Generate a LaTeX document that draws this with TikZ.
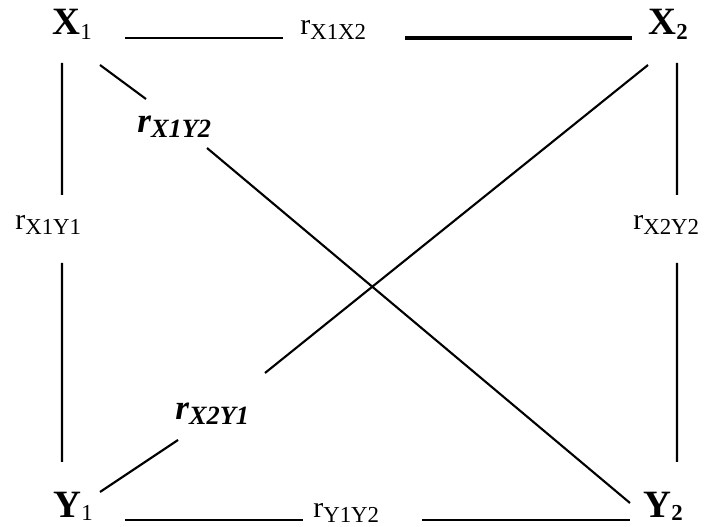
\documentclass[tikz,border=0pt]{standalone}
\usepackage{fontspec}
\setmainfont{Liberation Serif}
\usepackage{tikz}

\newcommand{\varsub}[2][2.8pt]{\raisebox{-#1}{\fontsize{13}{15}\selectfont #2}}
\newcommand{\corrsub}[1]{\raisebox{-2.3pt}{\fontsize{13}{15}\selectfont #1}}
\newcommand{\corrbisub}[1]{\raisebox{-2.8pt}{\fontsize{15}{17}\selectfont #1}}

\begin{document}
\begin{tikzpicture}[
  var/.style={inner sep=0pt, anchor=base west, font=\fontsize{22}{26}\selectfont\bfseries},
  corr/.style={inner sep=0pt, anchor=base west, font=\fontsize{17}{20}\selectfont},
  corrbi/.style={inner sep=0pt, anchor=base west, font=\fontsize{20}{24}\selectfont\bfseries\itshape},
  edge/.style={line width=1.2pt}
]
\useasboundingbox (0,0) rectangle (14.16,-10.54);

% variables
\node[var] (X1) at (1.04,-0.70) {X\varsub{\mdseries 1}};
\node[var] (X2) at (12.96,-0.70) {X\varsub{2}};
\node[var] (Y1) at (1.06,-10.36) {Y\varsub[1.2pt]{\mdseries 1}};
\node[var] (Y2) at (12.86,-10.36) {Y\varsub[1.2pt]{2}};

% correlations
\node[corr] (rX1X2) at (6.00,-0.70) {r\corrsub{X1X2}};
\node[corr] (rX1Y1) at (0.30,-4.60) {r\corrsub{X1Y1}};
\node[corr] (rX2Y2) at (12.66,-4.60) {r\corrsub{X2Y2}};
\node[corr] (rY1Y2) at (6.26,-10.36) {r\corrsub{Y1Y2}};
\node[corrbi] (rX1Y2) at (2.74,-2.66) {r\corrbisub{X1Y2}};
\node[corrbi] (rX2Y1) at (3.50,-8.40) {r\corrbisub{X2Y1}};

% top and bottom
\draw[edge] ([shift={(1.46,-0.06)}]X1.base west) -- ([shift={(-0.34,-0.06)}]rX1X2.base west);
\draw[edge, line width=1.8pt] ([shift={(2.10,-0.06)}]rX1X2.base west) -- ([shift={(-0.32,-0.06)}]X2.base west);
\draw[edge] ([shift={(1.44,-0.04)}]Y1.base west) -- ([shift={(-0.20,-0.04)}]rY1Y2.base west);
\draw[edge] ([shift={(2.18,-0.04)}]rY1Y2.base west) -- ([shift={(-0.26,-0.04)}]Y2.base west);

% left and right
\draw[edge] ([shift={(0.20,-0.56)}]X1.base west) -- ([shift={(0.94,0.70)}]rX1Y1.base west);
\draw[edge] ([shift={(0.94,-0.66)}]rX1Y1.base west) -- ([shift={(0.18,1.12)}]Y1.base west);
\draw[edge] ([shift={(0.58,-0.56)}]X2.base west) -- ([shift={(0.88,0.70)}]rX2Y2.base west);
\draw[edge] ([shift={(0.88,-0.66)}]rX2Y2.base west) -- ([shift={(0.68,1.12)}]Y2.base west);

% diagonals
\draw[edge] ([shift={(0.96,-0.60)}]X1.base west) -- ([shift={(0.18,0.68)}]rX1Y2.base west);
\draw[edge] ([shift={(1.40,-0.30)}]rX1Y2.base west) -- ([shift={(-0.26,0.30)}]Y2.base west);
\draw[edge] ([shift={(0,-0.60)}]X2.base west) -- ([shift={(1.80,0.94)}]rX2Y1.base west);
\draw[edge] ([shift={(0.06,-0.40)}]rX2Y1.base west) -- ([shift={(0.94,0.52)}]Y1.base west);
\end{tikzpicture}
\end{document}
